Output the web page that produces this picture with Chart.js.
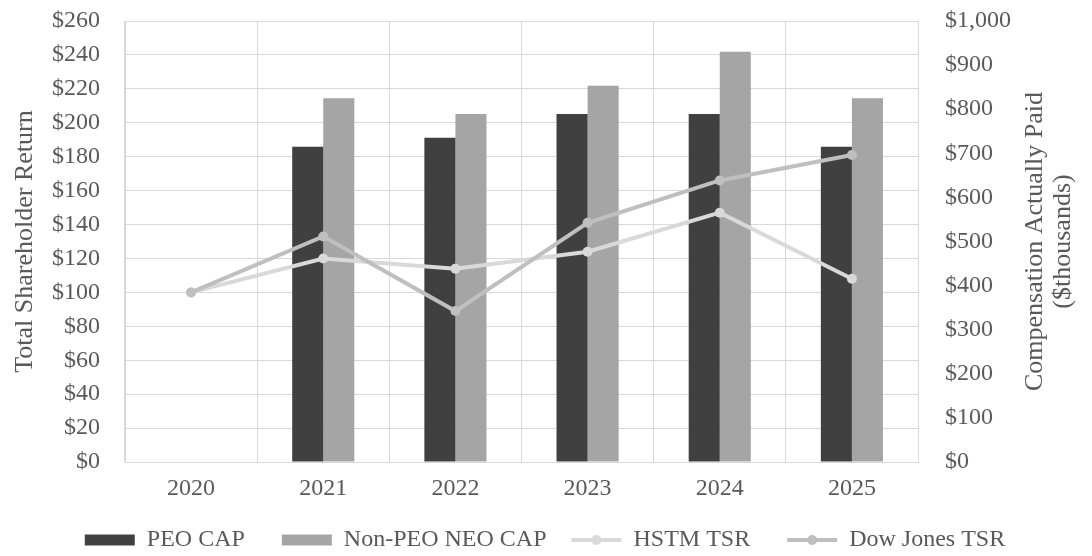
<!DOCTYPE html>
<html>
<head>
<meta charset="utf-8">
<script src="https://cdn.jsdelivr.net/npm/chart.js@4.4.1/dist/chart.umd.min.js"></script>
<style>
  body { margin: 0; background: #fff; }
  #wrap { width: 1092px; height: 556px; }
</style>
</head>
<body>
<div id="wrap"><canvas id="capChart"></canvas></div>
<script>
const years = ['2020', '2021', '2022', '2023', '2024', '2025'];
// compensation actually paid, $ thousands (right axis)
const peoCap = [null, 715, 735, 789, 789, 715];
const nonPeoCap = [null, 825, 789, 853, 930, 825];
// total shareholder return, $ (left axis)
const hstmTsr = [100, 120, 114, 124, 147, 108];
const dowJonesTsr = [100, 133, 89, 141, 166, 181];

const textColor = '#595959';
const gridColor = '#d9d9d9';
const fontFamily = '"Liberation Serif", "Times New Roman", serif';

// right axis title reads bottom-to-top, Chart.js would rotate it the other way
const rightTitle = {
    id: 'rightTitle',
    afterDraw(chart) {
        const ctx = chart.ctx;
        const area = chart.chartArea;
        const midY = (area.top + area.bottom) / 2;
        ctx.save();
        ctx.fillStyle = textColor;
        ctx.font = '26px ' + fontFamily;
        ctx.textAlign = 'center';
        ctx.textBaseline = 'middle';
        [['Compensation Actually Paid', 1035], ['($thousands)', 1063]].forEach(([txt, x]) => {
            ctx.save();
            ctx.translate(x, midY);
            ctx.rotate(-Math.PI / 2);
            ctx.fillText(txt, 0, 0);
            ctx.restore();
        });
        ctx.restore();
    }
};

// dot in the middle of the line legend markers
const legendDots = {
    id: 'legendDots',
    afterDraw(chart) {
        const legend = chart.legend;
        if (!legend || !legend.legendHitBoxes) return;
        const ctx = chart.ctx;
        legend.legendItems.forEach((item, i) => {
            const ds = chart.data.datasets[item.datasetIndex];
            if (ds.type !== 'line') return;
            const box = legend.legendHitBoxes[i];
            ctx.save();
            ctx.fillStyle = ds.borderColor;
            ctx.beginPath();
            ctx.arc(box.left + 25, box.top + box.height / 2, 5, 0, Math.PI * 2);
            ctx.fill();
            ctx.restore();
        });
    }
};

const ctx = document.getElementById('capChart');
new Chart(ctx, {
    data: {
        labels: years,
        datasets: [
            {
                type: 'bar',
                label: 'PEO CAP',
                data: peoCap,
                yAxisID: 'y1',
                backgroundColor: '#404040',
                categoryPercentage: 0.47,
                barPercentage: 1.0,
                order: 2
            },
            {
                type: 'bar',
                label: 'Non-PEO NEO CAP',
                data: nonPeoCap,
                yAxisID: 'y1',
                backgroundColor: '#a5a5a5',
                categoryPercentage: 0.47,
                barPercentage: 1.0,
                order: 2
            },
            {
                type: 'line',
                label: 'HSTM TSR',
                data: hstmTsr,
                yAxisID: 'y',
                borderColor: '#d9d9d9',
                backgroundColor: '#d9d9d9',
                borderWidth: 4,
                pointRadius: 5,
                pointBackgroundColor: '#d9d9d9',
                pointBorderWidth: 0,
                tension: 0,
                order: 1
            },
            {
                type: 'line',
                label: 'Dow Jones TSR',
                data: dowJonesTsr,
                yAxisID: 'y',
                borderColor: '#bfbfbf',
                backgroundColor: '#bfbfbf',
                borderWidth: 4,
                pointRadius: 5,
                pointBackgroundColor: '#bfbfbf',
                pointBorderWidth: 0,
                tension: 0,
                order: 0
            }
        ]
    },
    options: {
        responsive: true,
        maintainAspectRatio: false,
        animation: false,
        layout: {
            padding: { top: 0, right: 0, bottom: -6, left: 10 }
        },
        plugins: {
            tooltip: { enabled: false },
            legend: {
                position: 'bottom',
                labels: {
                    color: textColor,
                    font: { family: fontFamily, size: 24 },
                    usePointStyle: true,
                    pointStyleWidth: 50,
                    boxHeight: 11,
                    padding: 25,
                    sort: (a, b) => a.datasetIndex - b.datasetIndex,
                    generateLabels(chart) {
                        const items = Chart.defaults.plugins.legend.labels.generateLabels(chart);
                        return items.map((item, i) => {
                            const ds = chart.data.datasets[item.datasetIndex];
                            // extra gap between legend entries
                            if (i < items.length - 1) item.text = item.text + '  ';
                            if (ds.type === 'line') {
                                item.pointStyle = 'line';
                                item.strokeStyle = ds.borderColor;
                                item.lineWidth = 4;
                            } else {
                                item.pointStyle = 'rect';
                                item.lineWidth = 0;
                            }
                            return item;
                        });
                    }
                }
            }
        },
        scales: {
            x: {
                grid: { color: gridColor, drawTicks: false },
                border: { color: gridColor },
                ticks: {
                    color: textColor,
                    font: { family: fontFamily, size: 24 },
                    padding: 12
                },
                afterFit(scale) { scale.height = 41; }
            },
            y: {
                position: 'left',
                min: 0,
                max: 260,
                grid: { color: gridColor, drawTicks: false },
                border: { color: gridColor },
                ticks: {
                    stepSize: 20,
                    color: textColor,
                    font: { family: fontFamily, size: 24 },
                    padding: 25,
                    callback: v => '$' + v
                },
                title: {
                    display: true,
                    text: 'Total Shareholder Return',
                    color: textColor,
                    font: { family: fontFamily, size: 26 },
                    padding: { top: 0, bottom: 0 }
                },
                afterFit(scale) {
                    scale.width = 115;
                    scale.paddingTop = 21;
                }
            },
            y1: {
                position: 'right',
                min: 0,
                max: 1000,
                grid: { drawOnChartArea: false, drawTicks: false },
                border: { display: false },
                ticks: {
                    stepSize: 100,
                    color: textColor,
                    font: { family: fontFamily, size: 24 },
                    padding: 27,
                    callback: v => '$' + v.toLocaleString('en-US')
                },
                afterFit(scale) {
                    scale.width = 174;
                    scale.paddingTop = 21;
                }
            }
        }
    },
    plugins: [rightTitle, legendDots]
});
</script>
</body>
</html>
